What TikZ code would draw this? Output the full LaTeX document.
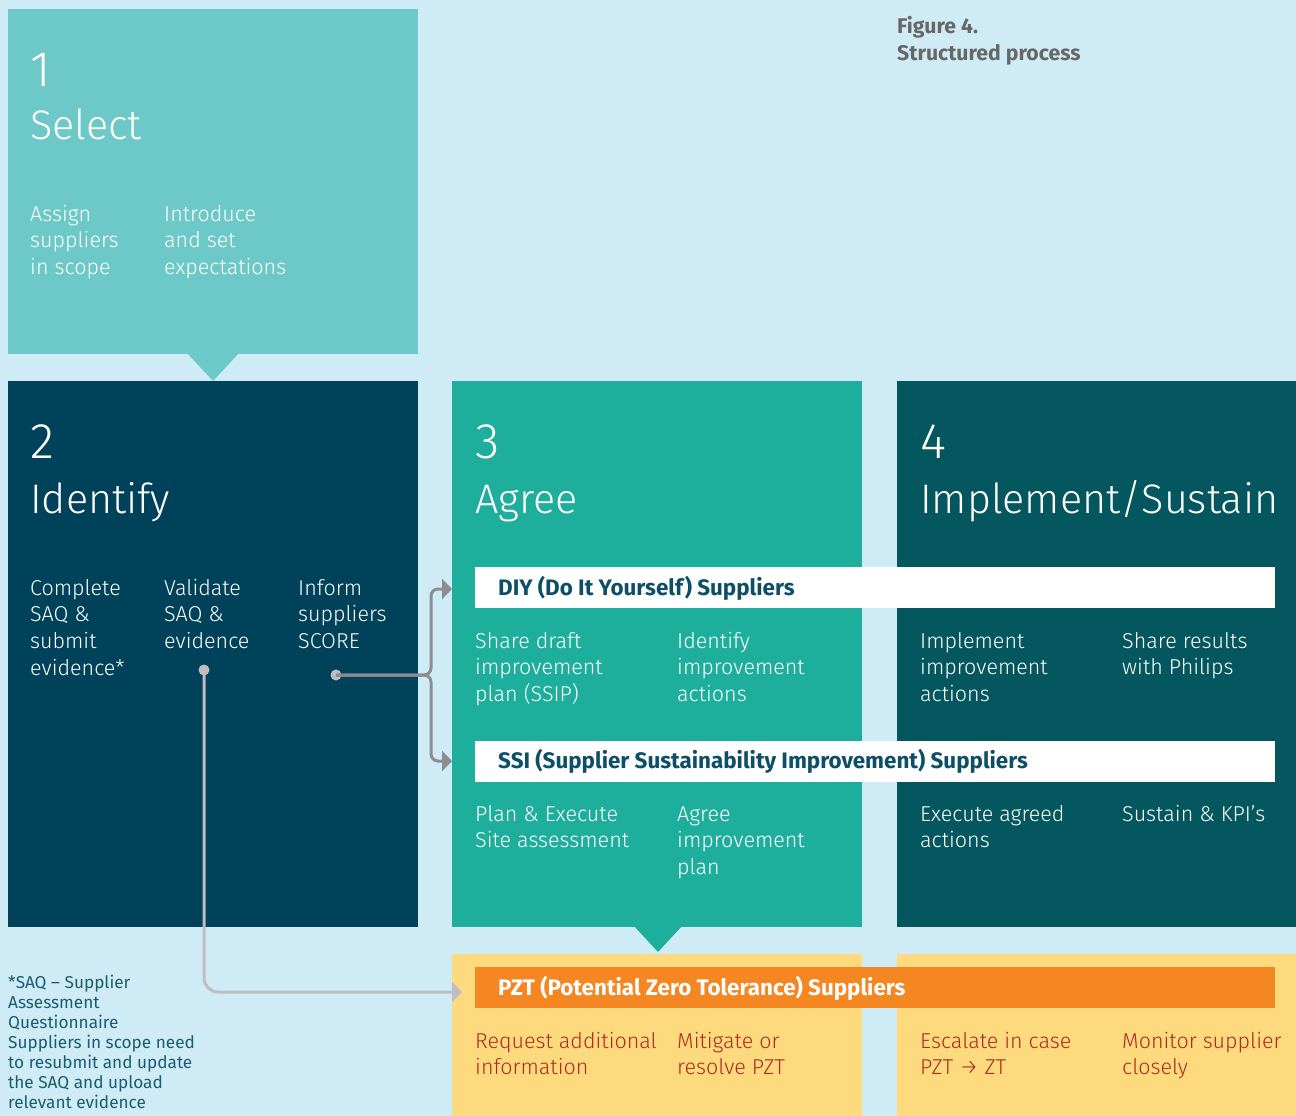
\documentclass[tikz,border=0pt]{standalone}
\usepackage{fontspec}
\setmainfont{Fira Sans}[UprightFont=* Light, BoldFont=* Bold]
\newfontfamily\regfont{Fira Sans}
\usetikzlibrary{arrows.meta}
\definecolor{bg}{HTML}{CFEBF5}
\definecolor{cone}{HTML}{6DC9C7}
\definecolor{ctwo}{HTML}{00425A}
\definecolor{cthree}{HTML}{1DAE9C}
\definecolor{cfour}{HTML}{04575F}
\definecolor{bartxt}{HTML}{0C4F66}
\definecolor{cyel}{HTML}{FEDA7E}
\definecolor{corange}{HTML}{F58723}
\definecolor{cred}{HTML}{B02A1E}
\definecolor{footc}{HTML}{1A5E6E}
\definecolor{figc}{HTML}{676767}
\definecolor{connd}{HTML}{8C8C91}
\definecolor{connl}{HTML}{BDBDC2}
\tikzset{
  box/.style={draw=none, inner sep=0, outer sep=0, anchor=north west},
  numtxt/.style={inner sep=0, anchor=base west, text=white, font=\fontsize{50}{56}\selectfont},
  bigtxt/.style={inner sep=0, anchor=base west, text=white, font=\fontsize{41.3}{48}\selectfont},
  body/.style={inner sep=0, anchor=base west, align=left, text=white, font=\fontsize{21.5}{26.7}\selectfont},
  redbody/.style={body, text=cred},
  bartext/.style={inner sep=0, anchor=base west, font=\bfseries\fontsize{22.4}{24}\selectfont},
  dotnode/.style={circle, inner sep=0, minimum size=11, fill=#1},
  conn/.style={line width=3pt, rounded corners=7, -{Triangle[length=10pt,width=20pt]}}
}
\begin{document}
\begin{tikzpicture}[x=1pt,y=-1pt]
\fill[bg] (0,0) rectangle (1296,1116);
\useasboundingbox (0,0) rectangle (1296,1116);
% boxes
\node[box, fill=cone, minimum width=410, minimum height=345] (b1) at (8,9) {};
\fill[cone] (187,353) -- (239,353) -- (213,381) -- cycle;
\node[box, fill=ctwo, minimum width=410, minimum height=546] (b2) at (8,381) {};
\node[box, fill=cthree, minimum width=410, minimum height=546] (b3) at (452,381) {};
\fill[cthree] (634,926) -- (682,926) -- (658,952) -- cycle;
\node[box, fill=cfour, minimum width=399, minimum height=546] (b4) at (897,381) {};
\node[box, fill=cyel, minimum width=410, minimum height=162] (y1) at (452,954) {};
\node[box, fill=cyel, minimum width=399, minimum height=162] (y2) at (897,954) {};
% bars
\node[box, fill=white, minimum width=800, minimum height=41] (diy) at (475,567) {};
\node[box, fill=white, minimum width=800, minimum height=41] (ssi) at (475,741) {};
\node[box, fill=corange, minimum width=800, minimum height=41] (pzt) at (475,967) {};
\node[bartext, text=bartxt] (diyt) at (498,595) {DIY (Do It Yourself) Suppliers};
\node[bartext, text=bartxt] (ssit) at (498,768) {SSI (Supplier Sustainability Improvement) Suppliers};
\node[bartext, text=white] (pztt) at (498,995) {PZT (Potential Zero Tolerance) Suppliers};
% figure title
\node[inner sep=0, anchor=base west, text=figc, align=left, font=\bfseries\fontsize{21.2}{27}\selectfont] (fig) at (897,61) {Figure 4.\\Structured process};
% headings
\node[numtxt] (n1) at (30,86) {1};
\node[bigtxt] (h1) at (30,139) {Select};
\node[numtxt] (n2) at (30,458) {2};
\node[bigtxt] (h2) at (30,513) {Identify};
\node[numtxt] (n3) at (475,458) {3};
\node[bigtxt] (h3) at (475,513) {Agree};
\node[numtxt] (n4) at (920,458) {4};
\node[bigtxt] (h4) at (920,513) {Implement/Sustain};
% box 1 text (anchor = baseline of last line)
\node[body] (s1a) at (30,274.4) {Assign\\suppliers\\in scope};
\node[body] (s1b) at (164,274.4) {Introduce\\and set\\expectations};
% box 2 text
\node[body] (s2a) at (30,675.1) {Complete\\SAQ \&\\submit\\evidence*};
\node[body] (s2b) at (164,648.4) {Validate\\SAQ \&\\evidence};
\node[body] (s2c) at (298,648.4) {Inform\\suppliers\\SCORE};
% box 3 text
\node[body] (s3a) at (475,701.4) {Share draft\\improvement\\plan (SSIP)};
\node[body] (s3b) at (677,701.4) {Identify\\improvement\\actions};
\node[body] (s3c) at (475,847.7) {Plan \& Execute\\Site assessment};
\node[body] (s3d) at (677,874.4) {Agree\\improvement\\plan};
% box 4 text
\node[body] (s4a) at (920,701.4) {Implement\\improvement\\actions};
\node[body] (s4b) at (1122,674.7) {Share results\\with Philips};
\node[body] (s4c) at (920,847.7) {Execute agreed\\actions};
\node[body] (s4d) at (1122,821) {Sustain \& KPI’s};
% yellow text
\node[redbody] (r1) at (475,1074.7) {Request additional\\information};
\node[redbody] (r2) at (677,1074.7) {Mitigate or\\resolve PZT};
\node[redbody] (r3) at (920,1074.7) {Escalate in case\\PZT → ZT};
\node[redbody] (r4) at (1122,1074.7) {Monitor supplier\\closely};
% footnote
\node[inner sep=0, anchor=base west, align=left, text=footc, font=\regfont\fontsize{17.2}{20}\selectfont] (fn) at (8,1108) {*SAQ – Supplier\\Assessment\\Questionnaire\\Suppliers in scope need\\to resubmit and update\\the SAQ and upload\\relevant evidence};
% connectors
\node[dotnode=connl] (d1) at (336,675) {};
\node[dotnode=connl] (d2) at (204,670) {};
\draw[conn, draw=connd] (d1.center) -- (431,675) -- (431,589) -- (b3.west |- 0,589);
\draw[conn, draw=connd] (d1.center) -- (431,675) -- (431,761) -- (b3.west |- 0,761);
\draw[conn, draw=connl, rounded corners=14] (d2.center) -- (204,992) -- (462,992);
\end{tikzpicture}
\end{document}
